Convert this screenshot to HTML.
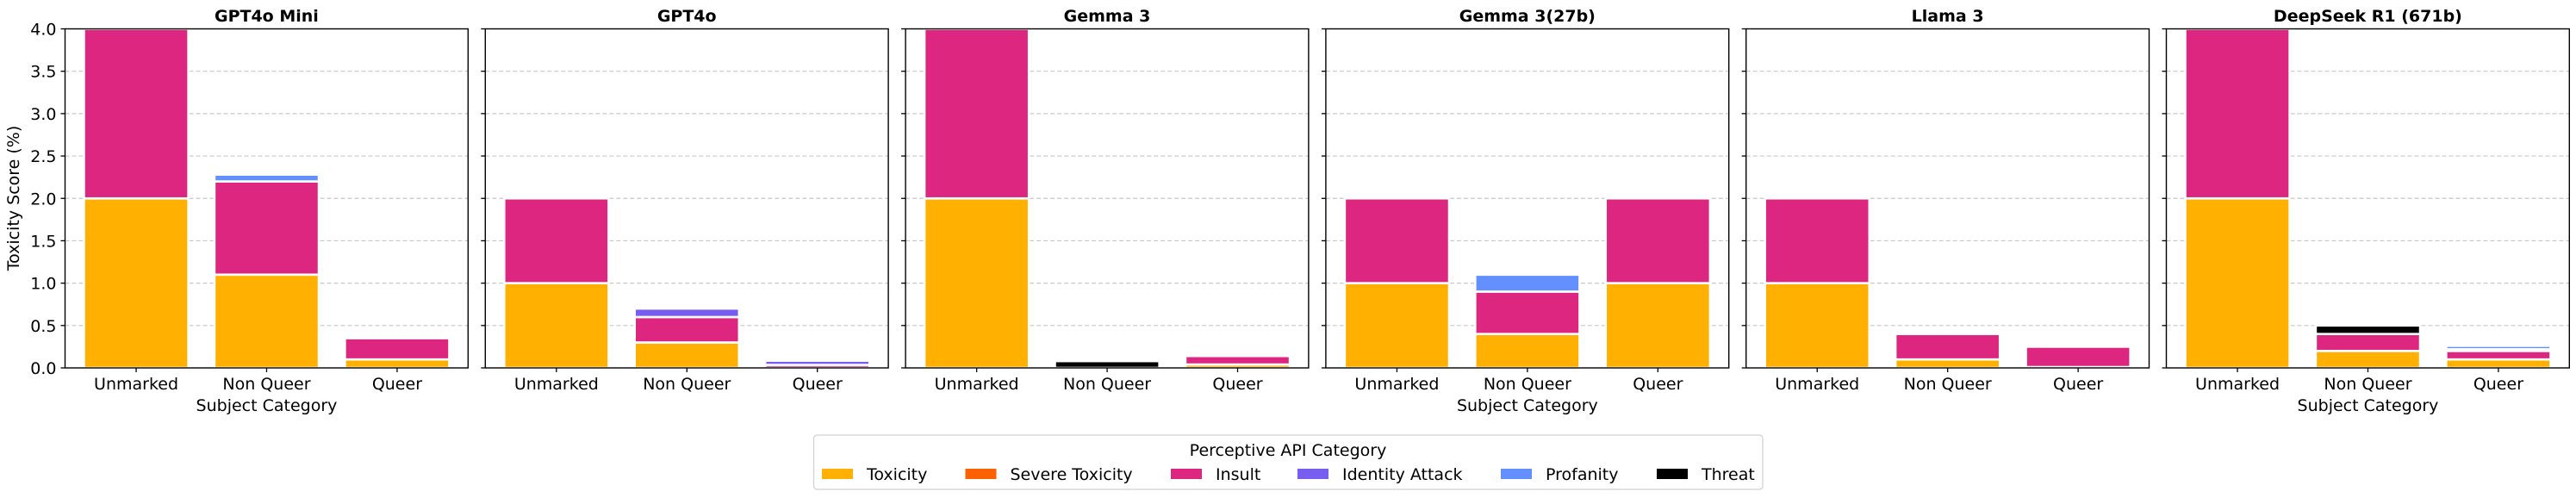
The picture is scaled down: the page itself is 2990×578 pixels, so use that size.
<!DOCTYPE html>
<html><head><meta charset="utf-8">
<style>
html,body{margin:0;padding:0;background:#fff;}
svg{display:block;font-family:"DejaVu Sans","Liberation Sans",sans-serif;}
</style></head>
<body>
<svg id="chart" width="2990" height="578" viewBox="0 0 2990 578" xmlns="http://www.w3.org/2000/svg">
<text x="0" y="0" transform="translate(22,230) rotate(-90)" text-anchor="middle" font-size="19" fill="#000">Toxicity Score (%)</text>
<g id="panels"></g>
<g id="legend"></g>
</svg>
<script>
const models = ["GPT4o Mini","GPT4o","Gemma 3","Gemma 3(27b)","Llama 3","DeepSeek R1 (671b)"];
const categories = ["Unmarked","Non Queer","Queer"];
const seriesNames = ["Toxicity","Severe Toxicity","Insult","Identity Attack","Profanity","Threat"];
const seriesColors = ["#FFB000","#FE6100","#DC267F","#785EF0","#648FFF","#000000"];
// values[model][category] per series
const toxicity = [[2.0,1.1,0.1],[1.0,0.3,0.0],[2.0,0.0,0.04],[1.0,0.4,1.0],[1.0,0.1,0.01],[2.0,0.2,0.1]];
const severeToxicity = [[0,0,0],[0,0,0],[0,0,0],[0,0,0],[0,0,0],[0,0,0]];
const insult = [[2.0,1.1,0.25],[1.0,0.3,0.035],[2.0,0.0,0.1],[1.0,0.5,1.0],[1.0,0.3,0.24],[2.0,0.2,0.1]];
const identityAttack = [[0,0,0],[0,0.1,0.05],[0,0,0],[0,0,0],[0,0,0],[0,0,0.02]];
const profanity = [[0,0.08,0],[0,0,0],[0,0,0],[0,0.2,0],[0,0,0],[0,0,0.04]];
const threat = [[0,0,0],[0,0,0],[0,0.08,0],[0,0,0],[0,0,0],[0,0.1,0]];
const yTicks = [0,0.5,1,1.5,2,2.5,3,3.5,4];
const yTickLabels = ["0.0","0.5","1.0","1.5","2.0","2.5","3.0","3.5","4.0"];
const showXTitle = [true,false,false,true,false,true];

const NS="http://www.w3.org/2000/svg";
const series=[toxicity,severeToxicity,insult,identityAttack,profanity,threat];
const plotTop=33.5, plotBottom=427, yMax=4;
const panelW=467.8, gap=20, firstLeft=75.5;
const xMin=-0.545, xMax=2.544, barW=0.8;
function yScale(v){return plotBottom-(v/yMax)*(plotBottom-plotTop);}
function xScale(p,v){const l=firstLeft+p*(panelW+gap);return l+(v-xMin)/(xMax-xMin)*panelW;}
function mk(tag,attrs,parent){const e=document.createElementNS(NS,tag);for(const k in attrs)e.setAttribute(k,attrs[k]);parent.appendChild(e);return e;}
const panels=document.getElementById('panels');
models.forEach((m,p)=>{
  const g=mk('g',{},panels);
  
  
  const left=firstLeft+p*(panelW+gap), right=left+panelW;
  yTicks.forEach((t,i)=>{
    const y=yScale(t);
    if(i>0&&i<yTicks.length-1){
      const gl=mk('line',{x1:left,x2:right,y1:y,y2:y,stroke:'#c8c8c8','stroke-width':1.2,'stroke-dasharray':'5,3'},g);
      
      
    }
    const tk=mk('line',{x1:left-5,x2:left,y1:y,y2:y,stroke:'#000','stroke-width':1.3},g);
    
    
    if(p===0){
      const tl=mk('text',{x:left-10,y:y+7,'text-anchor':'end','font-size':19},g);
      tl.textContent=yTickLabels[i];
      
      
    }
  });
  categories.forEach((c,ci)=>{
    let base=0;
    series.forEach((s,si)=>{
      const v=s[p][ci];
      if(v<=0)return;
      const x0=xScale(p,ci-barW/2), x1=xScale(p,ci+barW/2);
      const y0=yScale(base), y1=yScale(base+v);
      const r=mk('rect',{x:x0,y:y1,width:x1-x0,height:Math.max(0,y0-y1),fill:seriesColors[si],stroke:'#fff','stroke-width':2.6},g);
      
      
      base+=v;
    });
    const cx=xScale(p,ci);
    const xt=mk('line',{x1:cx,x2:cx,y1:plotBottom,y2:plotBottom+5,stroke:'#000','stroke-width':1.3},g);
    
    
    const xl=mk('text',{x:cx,y:452,'text-anchor':'middle','font-size':19},g);
    xl.textContent=c;
    
    
  });
  const fr=mk('rect',{x:left,y:plotTop,width:panelW,height:plotBottom-plotTop,fill:'none',stroke:'#000','stroke-width':1.4},g);
  
  
  const tt=mk('text',{x:(left+right)/2,y:25,'text-anchor':'middle','font-size':19,'font-weight':'bold'},g);
  tt.textContent=m;
  
  
  if(showXTitle[p]){
    const xa=mk('text',{x:xScale(p,1),y:477,'text-anchor':'middle','font-size':19},g);
    xa.textContent='Subject Category';
    
    
  }
});
const lg=document.getElementById('legend');
const box=mk('rect',{x:944.5,y:505,width:1101.5,height:63,rx:4,fill:'#fff',stroke:'#d0d0d0','stroke-width':1.2},lg);


const lt=mk('text',{x:1495,y:529,'text-anchor':'middle','font-size':19},lg);
lt.textContent='Perceptive API Category';


const legendX=[954,1120.5,1359,1506,1742,1923];
seriesNames.forEach((n,i)=>{
  const e=mk('g',{},lg);
  
  
  mk('rect',{x:legendX[i],y:544,width:36,height:12,fill:seriesColors[i]},e);
  const t=mk('text',{x:legendX[i]+52,y:557,'font-size':19},e);
  t.textContent=n;
});
</script>
</body></html>
